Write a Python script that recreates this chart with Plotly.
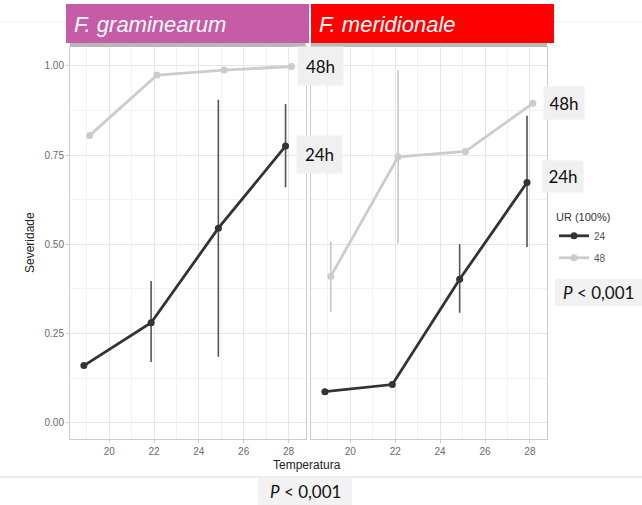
import plotly.graph_objects as go

W, H = 642, 505

# ---------------- data ----------------
temps = [19, 22, 25, 28]
x_ticks = [20, 22, 24, 26, 28]
y_ticks = [0.0, 0.25, 0.5, 0.75, 1.0]
y_tick_text = ["0.00", "0.25", "0.50", "0.75", "1.00"]

panels = ["F. graminearum", "F. meridionale"]
panel_colors = ["#C65BA8", "#FF0000"]
groups = ["24", "48"]
group_colors = ["#333333", "#CCCCCC"]
bar_colors = ["#555555", "#C8C8C8"]

# F. graminearum
gram_24 = [0.16, 0.28, 0.545, 0.775]
gram_24_lo = [0.16, 0.17, 0.185, 0.66]
gram_24_hi = [0.16, 0.397, 0.905, 0.893]
gram_48 = [0.805, 0.974, 0.988, 0.998]
gram_48_lo = [0.805, 0.974, 0.988, 0.998]
gram_48_hi = [0.805, 0.974, 0.988, 0.998]

# F. meridionale
meri_24 = [0.087, 0.107, 0.402, 0.673]
meri_24_lo = [0.087, 0.107, 0.308, 0.492]
meri_24_hi = [0.087, 0.107, 0.500, 0.860]
meri_48 = [0.410, 0.745, 0.760, 0.895]
meri_48_lo = [0.310, 0.502, 0.760, 0.895]
meri_48_hi = [0.507, 0.988, 0.760, 0.895]

dodge = {"24": -0.13, "48": 0.13}

# ---------------- helpers ----------------
def px(x):
    return x / W

def py(y):
    return 1 - y / H

fig = go.Figure()

series = [
    (0, "24", gram_24, gram_24_lo, gram_24_hi),
    (0, "48", gram_48, gram_48_lo, gram_48_hi),
    (1, "24", meri_24, meri_24_lo, meri_24_hi),
    (1, "48", meri_48, meri_48_lo, meri_48_hi),
]
# draw 48 first so that 24 sits on top
order = [1, 3, 0, 2]
for idx in order:
    p, g, vals, lo, hi = series[idx]
    gi = groups.index(g)
    xs = [t + dodge[g] for t in temps]
    fig.add_trace(go.Scatter(
        x=xs, y=vals,
        mode="lines+markers",
        name=g,
        legendgroup=g,
        showlegend=(p == 0),
        legendrank=gi,
        line=dict(color=group_colors[gi], width=2.8),
        marker=dict(color=group_colors[gi], size=7),
        error_y=dict(
            type="data", symmetric=False,
            array=[h - v for h, v in zip(hi, vals)],
            arrayminus=[v - l for v, l in zip(vals, lo)],
            color=bar_colors[gi], thickness=1.6, width=0,
        ),
        xaxis="x" if p == 0 else "x2",
        yaxis="y" if p == 0 else "y2",
    ))

# ---------------- axes ----------------
xdom1 = [px(70), px(305.5)]
xdom2 = [px(311), px(547)]
ydom = [py(439.3), py(47)]
xr = [18.25, 28.76]
yr = [-0.0465, 1.0527]

tickfont = dict(family="Liberation Sans, Arial", size=10, color="#6b6b6b")
common_x = dict(
    range=xr, tickvals=x_ticks, ticktext=[str(v) for v in x_ticks],
    showgrid=True, gridcolor="#E6E6E6", gridwidth=1,
    minor=dict(dtick=1, tick0=19, showgrid=True, gridcolor="#F2F2F2", gridwidth=1),
    zeroline=False, showline=True, linecolor="#CDCDCD", linewidth=1, mirror=True,
    ticks="outside", ticklen=3, tickcolor="#CDCDCD", tickfont=tickfont,
    fixedrange=True,
)
common_y = dict(
    range=yr, tickvals=y_ticks, ticktext=y_tick_text,
    showgrid=True, gridcolor="#E6E6E6", gridwidth=1,
    minor=dict(dtick=0.125, tick0=0.125, showgrid=True, gridcolor="#F2F2F2", gridwidth=1),
    zeroline=False, showline=True, linecolor="#CDCDCD", linewidth=1, mirror=True,
    tickfont=tickfont, fixedrange=True,
)

fig.update_layout(
    width=W, height=H,
    margin=dict(l=0, r=0, t=0, b=0),
    paper_bgcolor="white", plot_bgcolor="white",
    xaxis=dict(domain=xdom1, anchor="y", **common_x),
    xaxis2=dict(domain=xdom2, anchor="y2", **common_x),
    yaxis=dict(domain=ydom, anchor="x", ticks="outside", ticklen=3, tickcolor="#CDCDCD",
               showticklabels=True, **common_y),
    yaxis2=dict(domain=ydom, anchor="x2", showticklabels=False, ticks="", **common_y),
    legend=dict(
        x=px(554), y=py(207), xanchor="left", yanchor="top",
        title=dict(text="UR (100%)", font=dict(family="Liberation Sans, Arial", size=11, color="#333333")),
        font=dict(family="Liberation Sans, Arial", size=10, color="#555555"),
        bgcolor="rgba(0,0,0,0)", itemwidth=30, tracegroupgap=3,
    ),
    showlegend=True,
)

shapes = []
annotations = []

# faint background lines (page decoration)
shapes.append(dict(type="line", xref="paper", yref="paper", x0=0, x1=1, y0=py(22), y1=py(22),
                   line=dict(color="#EFEFEF", width=1), layer="below"))
shapes.append(dict(type="line", xref="paper", yref="paper", x0=0, x1=1, y0=py(477), y1=py(477),
                   line=dict(color="#D9D9D9", width=1), layer="below"))

# grey ggplot strips under the coloured headers
for x0, x1 in [(70, 305.5), (311, 547)]:
    shapes.append(dict(type="rect", xref="paper", yref="paper", x0=px(x0), x1=px(x1),
                       y0=py(47), y1=py(43), fillcolor="#B8B8B8", line=dict(width=0)))

# coloured header boxes
for (x0, x1), name, col in zip([(66, 309), (311, 554)], panels, panel_colors):
    shapes.append(dict(type="rect", xref="paper", yref="paper", x0=px(x0), x1=px(x1),
                       y0=py(43), y1=py(4), fillcolor=col, line=dict(width=0)))
    annotations.append(dict(xref="paper", yref="paper", x=px(x0 + 6), y=py(24),
                            xanchor="left", yanchor="middle", showarrow=False,
                            text="<i>" + name + "</i>",
                            font=dict(family="Liberation Sans, Arial", size=22, color="white")))

# series labels
label_font = dict(family="Lato, Open Sans", size=17, color="#111111")
for cx, cy, w, h, txt in [(320.5, 66, 45, 38, "48h"), (319.5, 154, 45, 37, "24h"),
                          (564, 103, 40, 32, "48h"), (563, 176, 40, 31, "24h")]:
    annotations.append(dict(xref="paper", yref="paper", x=px(cx), y=py(cy),
                            xanchor="center", yanchor="middle", showarrow=False,
                            text=txt, width=w, height=h, bgcolor="#F0F0F0",
                            borderpad=0, font=label_font))

# axis titles
annotations.append(dict(xref="paper", yref="paper", x=px(30), y=py(243),
                        xanchor="center", yanchor="middle", showarrow=False, textangle=-90,
                        text="Severidade",
                        font=dict(family="Liberation Sans, Arial", size=12, color="#222222")))
annotations.append(dict(xref="paper", yref="paper", x=px(307), y=py(465),
                        xanchor="center", yanchor="middle", showarrow=False,
                        text="Temperatura",
                        font=dict(family="Liberation Sans, Arial", size=12, color="#222222")))

# P-value boxes
p_font = dict(family="Lato, Open Sans", size=17, color="#111111")
shapes.append(dict(type="rect", xref="paper", yref="paper", x0=px(258), x1=px(352),
                   y0=py(505), y1=py(477), fillcolor="#F2F2F2", line=dict(width=0)))
annotations.append(dict(xref="paper", yref="paper", x=px(305), y=py(491),
                        xanchor="center", yanchor="middle", showarrow=False,
                        text="<i>P</i> < 0,001", font=p_font))
shapes.append(dict(type="rect", xref="paper", yref="paper", x0=px(555), x1=px(642),
                   y0=py(306), y1=py(279), fillcolor="#F2F2F2", line=dict(width=0)))
annotations.append(dict(xref="paper", yref="paper", x=px(598), y=py(292),
                        xanchor="center", yanchor="middle", showarrow=False,
                        text="<i>P</i> < 0,001", font=p_font))

fig.update_layout(shapes=shapes, annotations=annotations)

fig.write_html("out.html")
